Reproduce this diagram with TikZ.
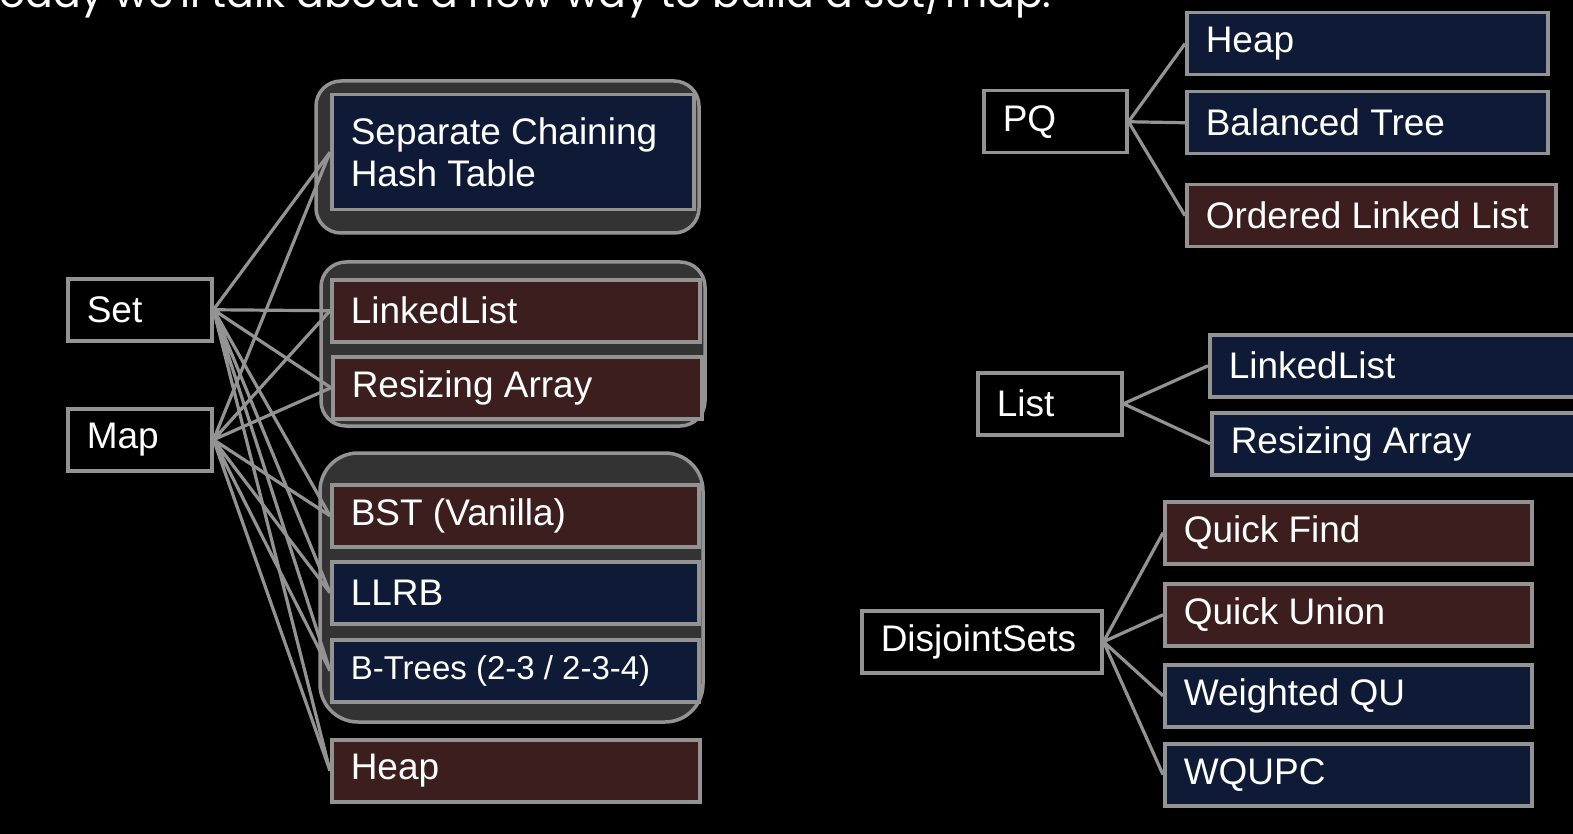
\documentclass[tikz,border=0pt]{standalone}
\usepackage{fontspec}
\setmainfont{Liberation Sans}
\newfontfamily\titlefont{Poppins}
\usetikzlibrary{positioning}
\definecolor{linegray}{HTML}{939393}
\definecolor{groupfill}{HTML}{333333}
\definecolor{navyfill}{HTML}{0F1B36}
\definecolor{maroonfill}{HTML}{3C1E1E}
\tikzset{
  cell/.style={draw=linegray, line width=3.5pt, anchor=north west, inner xsep=19pt, inner ysep=0pt,
    minimum height=62pt, align=flush left, text=white, font=\fontsize{37}{42}\selectfont},
  adt/.style={cell, fill=black},
  good/.style={cell, fill=navyfill},
  bad/.style={cell, fill=maroonfill},
  group/.style={draw=linegray, line width=3.5pt, fill=groupfill},
  link/.style={linegray, line width=3.2pt}
}

\begin{document}
\begin{tikzpicture}[x=1pt, y=-1pt]

% page
\fill[black] (0,0) rectangle (1573,834);
\useasboundingbox (0,0) rectangle (1573,834);

\node[anchor=base east, text=white, font=\titlefont\fontsize{41}{48}\selectfont] (title) at (1055,8) {Today we'll talk about a new way to build a set/map.};

%%% groups
\draw[group, rounded corners=25pt] (316,81) rectangle (699,233);
\draw[group, rounded corners=25pt] (321,262) rectangle (705,426);
\draw[group, rounded corners=38pt] (320,453) rectangle (703,722);

%%% Set / Map
\node[adt, text width=106pt] (Set) at (66,277) {Set};
\node[adt, text width=106pt] (Map) at (66,407) {Map};

\node[good, text width=324pt, minimum height=115pt] (SepChain) at (330,93) {Separate Chaining\\Hash Table};
\node[bad, text width=330pt] (LinkedList) at (330,278) {LinkedList};
\node[bad, text width=331pt] (ResArray) at (331,355) {Resizing Array};
\node[bad, text width=329pt] (BST) at (330,483) {BST (Vanilla)};
\node[good, text width=329pt] (LLRB) at (330,560) {LLRB};
\node[good, text width=329pt, font=\fontsize{33}{38}\selectfont] (BTrees) at (330,638) {B-Trees (2-3 / 2-3-4)};
\node[bad, text width=330pt] (Heap) at (330,738) {Heap};

\draw[link] (Set.east) -- (SepChain.west) (Set.east) -- (LinkedList.west) (Set.east) -- (ResArray.west)
  (Set.east) -- (BST.west) (Set.east) -- (LLRB.west) (Set.east) -- (BTrees.west) (Set.east) -- (Heap.west);
\draw[link] (Map.east) -- (SepChain.west) (Map.east) -- (LinkedList.west) (Map.east) -- (ResArray.west)
  (Map.east) -- (BST.west) (Map.east) -- (LLRB.west) (Map.east) -- (BTrees.west) (Map.east) -- (Heap.west);

%%% PQ
\node[adt, text width=105pt] (PQ) at (982,89) {PQ};
\node[good, text width=323pt] (PQHeap) at (1185,11) {Heap};
\node[good, text width=323pt] (Balanced) at (1185,90) {Balanced Tree};
\node[bad, text width=331pt] (OrderedLL) at (1185,183) {Ordered Linked List};

\draw[link] (PQ.east) -- (PQHeap.west) (PQ.east) -- (Balanced.west) (PQ.east) -- (OrderedLL.west);

%%% List
\node[adt, text width=106pt] (List) at (976,371) {List};
\node[good, text width=362pt] (ListLL) at (1208,333) {LinkedList};
\node[good, text width=362pt] (ListRA) at (1210,411) {Resizing Array};

\draw[link] (List.east) -- (ListLL.west) (List.east) -- (ListRA.west);

%%% DisjointSets
\node[adt, text width=202pt] (DS) at (860,609) {DisjointSets};
\node[bad, text width=329pt] (QuickFind) at (1163,500) {Quick Find};
\node[bad, text width=329pt] (QuickUnion) at (1163,582) {Quick Union};
\node[good, text width=329pt] (WeightedQU) at (1163,663) {Weighted QU};
\node[good, text width=329pt] (WQUPC) at (1163,742) {WQUPC};

\draw[link] (DS.east) -- (QuickFind.west) (DS.east) -- (QuickUnion.west)
  (DS.east) -- (WeightedQU.west) (DS.east) -- (WQUPC.west);

\end{tikzpicture}
\end{document}
